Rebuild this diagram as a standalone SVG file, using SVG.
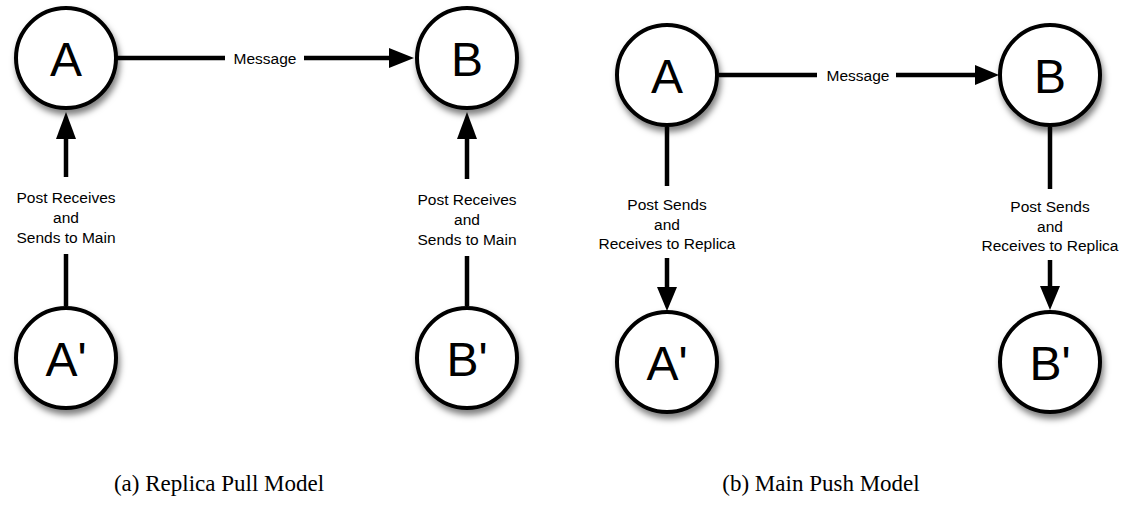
<svg xmlns="http://www.w3.org/2000/svg" width="1124" height="511" viewBox="0 0 1124 511">
<defs>
<filter id="sh" x="-30%" y="-30%" width="170%" height="170%">
<feDropShadow dx="2" dy="5" stdDeviation="3" flood-color="#000" flood-opacity="0.5"/>
</filter>
</defs>
<style>
.node circle{fill:#fff;stroke:#000;stroke-width:4;filter:url(#sh)}
.node text{font-family:"Liberation Sans",Arial,sans-serif;font-size:48px;text-anchor:middle;fill:#000}
.conn line{stroke:#000;stroke-width:4.5}
.conn polygon{fill:#000}
.lbl{font-family:"Liberation Sans",Arial,sans-serif;font-size:15.5px;text-anchor:middle;fill:#000}
.cap{font-family:"Liberation Serif","Times New Roman",serif;font-size:23px;text-anchor:middle;fill:#000}
</style>
<rect width="1124" height="511" fill="#fff"/>

<g id="connectors" class="conn">
<!-- left panel: message -->
<line x1="116" y1="58" x2="225" y2="58"/>
<line x1="304" y1="58" x2="392" y2="58"/>
<polygon points="389,48 414,58 389,68"/>
<text class="lbl" x="265" y="63.5">Message</text>
<!-- left A' -> A -->
<polygon points="56,139 66,112 76,139"/>
<line x1="66" y1="138" x2="66" y2="177"/>
<line x1="66" y1="254" x2="66" y2="306"/>
<text class="lbl" x="66" y="203">Post Receives</text>
<text class="lbl" x="66" y="223">and</text>
<text class="lbl" x="66" y="243">Sends to Main</text>
<!-- left B' -> B -->
<polygon points="457,139 467,112 477,139"/>
<line x1="467" y1="138" x2="467" y2="179"/>
<line x1="467" y1="256" x2="467" y2="306"/>
<text class="lbl" x="467" y="205">Post Receives</text>
<text class="lbl" x="467" y="225">and</text>
<text class="lbl" x="467" y="245">Sends to Main</text>

<!-- right panel: message -->
<line x1="719" y1="75" x2="817" y2="75"/>
<line x1="896" y1="75" x2="978" y2="75"/>
<polygon points="975,65 999,75 975,85"/>
<text class="lbl" x="858" y="80.5">Message</text>
<!-- right A -> A' -->
<line x1="667" y1="127" x2="667" y2="186"/>
<line x1="667" y1="258" x2="667" y2="290"/>
<polygon points="657,287 667,311 677,287"/>
<text class="lbl" x="667" y="210">Post Sends</text>
<text class="lbl" x="667" y="230">and</text>
<text class="lbl" x="667" y="249">Receives to Replica</text>
<!-- right B -> B' -->
<line x1="1050" y1="127" x2="1050" y2="189"/>
<line x1="1050" y1="260" x2="1050" y2="290"/>
<polygon points="1040,286 1050,310 1060,286"/>
<text class="lbl" x="1050" y="212">Post Sends</text>
<text class="lbl" x="1050" y="232">and</text>
<text class="lbl" x="1050" y="251">Receives to Replica</text>
</g>

<g id="nodeA1" class="node"><circle cx="66" cy="58" r="50"/><text x="66" y="75.5">A</text></g>
<g id="nodeB1" class="node"><circle cx="467" cy="58" r="50"/><text x="467" y="75.5">B</text></g>
<g id="nodeA1p" class="node"><circle cx="66" cy="358" r="50"/><text x="66" y="375.5">A'</text></g>
<g id="nodeB1p" class="node"><circle cx="467" cy="358" r="50"/><text x="467" y="375.5">B'</text></g>

<g id="nodeA2" class="node"><circle cx="667" cy="75" r="50"/><text x="667" y="92.5">A</text></g>
<g id="nodeB2" class="node"><circle cx="1050" cy="75" r="50"/><text x="1050" y="92.5">B</text></g>
<g id="nodeA2p" class="node"><circle cx="667" cy="362" r="50"/><text x="667" y="379.5">A'</text></g>
<g id="nodeB2p" class="node"><circle cx="1050" cy="362" r="50"/><text x="1050" y="379.5">B'</text></g>

<text class="cap" x="219" y="491">(a) Replica Pull Model</text>
<text class="cap" x="821" y="491">(b) Main Push Model</text>
</svg>
